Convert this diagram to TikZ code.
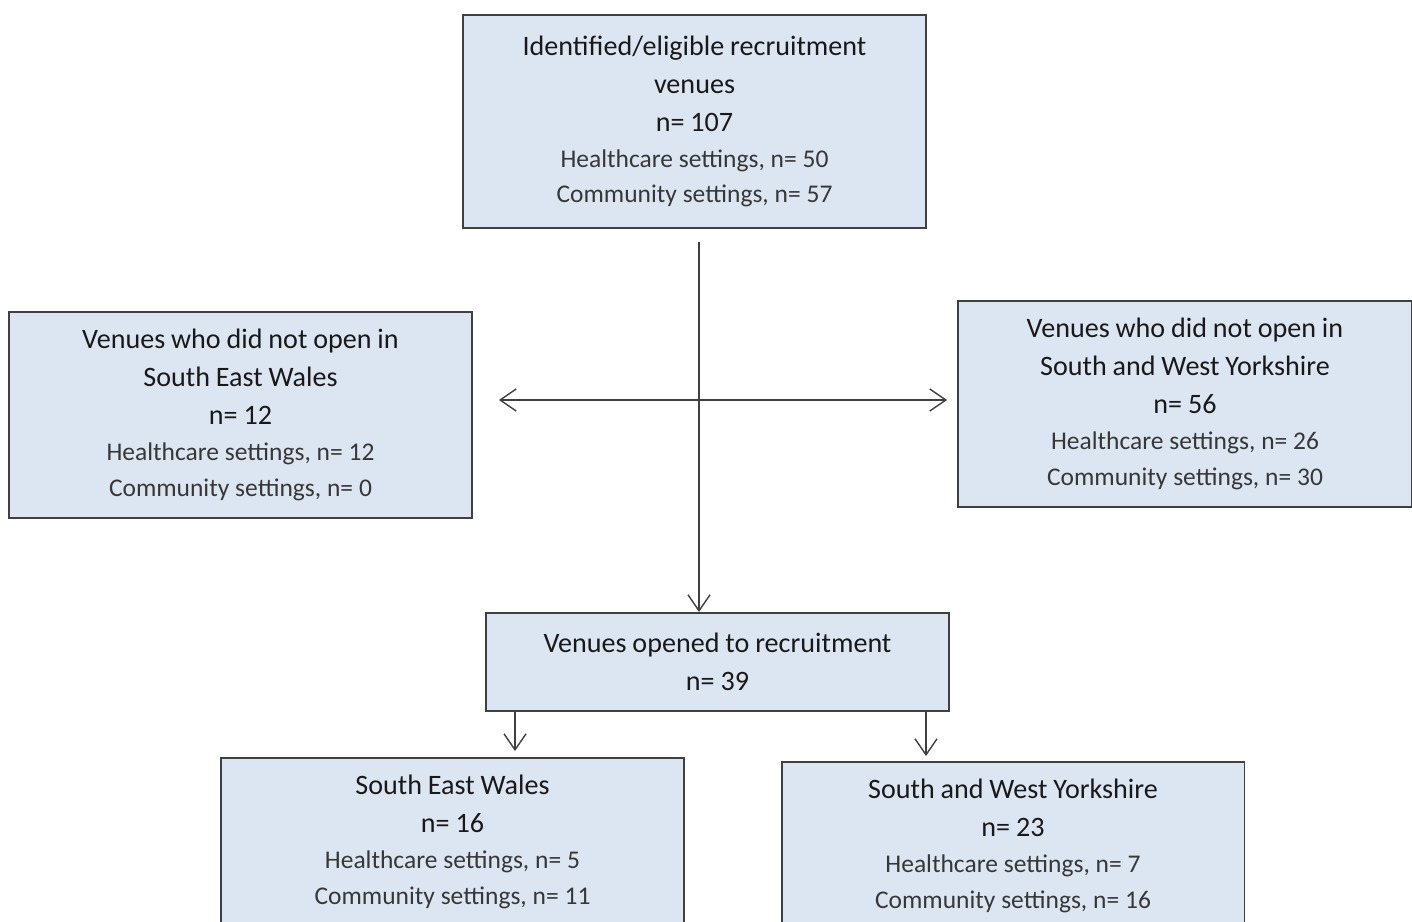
\documentclass[tikz,border=0pt]{standalone}
\usepackage{fontspec}
\setmainfont{Carlito}
\usetikzlibrary{arrows.meta}

\definecolor{boxfill}{RGB}{220,230,242}
\definecolor{boxline}{RGB}{64,64,64}
\definecolor{ttlgray}{RGB}{25,25,25}
\definecolor{smlgray}{RGB}{55,55,55}

\newcommand{\ttl}{\fontsize{16}{21.6}\selectfont\color{ttlgray}}
\newcommand{\sml}{\fontsize{14.5}{20.4}\selectfont\color{smlgray}}

\tikzset{
  venuebox/.style={draw=boxline,fill=boxfill,line width=1.1pt,minimum width=9.26cm,
    text width=8.8cm,align=center,inner sep=0pt},
  arr/.style={line width=0.8pt,draw=boxline,-{Straight Barb[length=3.2mm,width=4.4mm]}},
  darr/.style={line width=0.8pt,draw=boxline,{Straight Barb[length=3.2mm,width=4.4mm]}-{Straight Barb[length=3.2mm,width=4.4mm]}}
}

\begin{document}
\begin{tikzpicture}[x=0.02cm,y=-0.02cm]
  %ramme
  	\useasboundingbox (0,0) rectangle (1412,922);
  	\clip (0,0) rectangle (1412,922);

  %øverste boks
  	\node[venuebox,minimum height=4.26cm] (top) at (694.5,121.5)
  	  {{\ttl Identified/eligible recruitment\\venues\\n= 107\par}
  	   {\sml Healthcare settings, n= 50\\Community settings, n= 57\par}};

  %ikke åbnet
  	\node[venuebox,minimum height=4.12cm] (sewno) at (240.5,415)
  	  {{\ttl Venues who did not open in\\South East Wales\\n= 12\par}
  	   {\sml Healthcare settings, n= 12\\Community settings, n= 0\par}};
  	\node[venuebox,minimum width=9.08cm,minimum height=4.12cm] (swyno) at (1185,404)
  	  {{\ttl Venues who did not open in\\South and West Yorkshire\\n= 56\par}
  	   {\sml Healthcare settings, n= 26\\Community settings, n= 30\par}};

  %åbnet
  	\node[venuebox,minimum height=1.96cm] (opened) at (717.5,662)
  	  {{\ttl Venues opened to recruitment\\n= 39\par}};

  %regioner
  	\node[venuebox,minimum height=3.36cm] (sew) at (452.5,842)
  	  {{\ttl South East Wales\\n= 16\par}
  	   {\sml Healthcare settings, n= 5\\Community settings, n= 11\par}};
  	\node[venuebox,minimum height=3.36cm] (swy) at (1013,846)
  	  {{\ttl South and West Yorkshire\\n= 23\par}
  	   {\sml Healthcare settings, n= 7\\Community settings, n= 16\par}};

  %pile
  	\coordinate (split) at (699,400);
  	\coordinate (sewtap) at (515,712);
  	\coordinate (swytap) at (926,712);
  	\draw[arr,shorten <=0.26cm] (split |- top.south) -- (split |- opened.north);
  	\draw[darr,shorten <=0.52cm,shorten >=0.2cm] (sewno.east |- split) -- (swyno.west |- split);
  	\draw[arr,shorten >=0.12cm] (sewtap) -- (sewtap |- sew.north);
  	\draw[arr,shorten >=0.1cm] (swytap) -- (swytap |- swy.north);
\end{tikzpicture}
\end{document}
